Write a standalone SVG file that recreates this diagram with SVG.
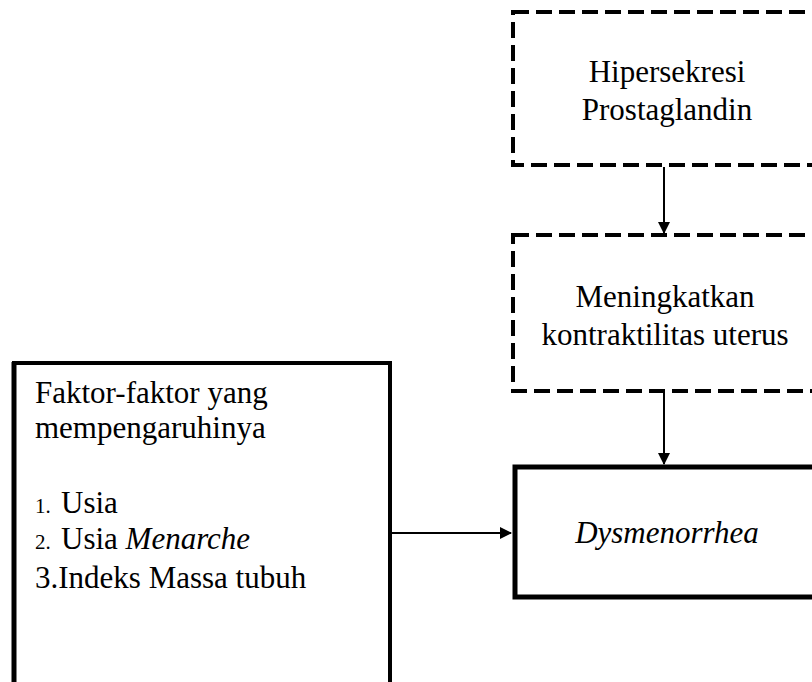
<svg xmlns="http://www.w3.org/2000/svg" width="812" height="682" viewBox="0 0 812 682">
<style>
.dash{fill:#fff;stroke:#000;stroke-width:4;stroke-dasharray:16 7}
.solid{fill:#fff;stroke:#000;stroke-width:5}
.ln{stroke:#000;stroke-width:2;fill:none}
</style>
<defs>
<marker id="ah" markerWidth="12" markerHeight="12" refX="11" refY="6" orient="auto" markerUnits="userSpaceOnUse">
<path d="M0,0 L12,6 L0,12 Z" fill="#000"/>
</marker>
</defs>
<rect width="812" height="682" fill="#fff"/>
<g id="connectors">
<line class="ln" x1="664" y1="167" x2="664" y2="233" marker-end="url(#ah)"/>
<line class="ln" x1="664" y1="393" x2="664" y2="464" marker-end="url(#ah)"/>
<line class="ln" x1="391" y1="533" x2="511" y2="533" marker-end="url(#ah)"/>
</g>
<g id="hipersekresi">
<rect class="dash" x="513" y="12" width="320" height="153"/>
<text x="667" y="82" text-anchor="middle" font-family="Liberation Serif" font-size="31">Hipersekresi</text>
<text x="667" y="120" text-anchor="middle" font-family="Liberation Serif" font-size="31">Prostaglandin</text>
</g>
<g id="kontraktilitas">
<rect class="dash" x="513" y="235" width="320" height="156"/>
<text x="665" y="307" text-anchor="middle" font-family="Liberation Serif" font-size="31">Meningkatkan</text>
<text x="665" y="345" text-anchor="middle" font-family="Liberation Serif" font-size="31">kontraktilitas uterus</text>
</g>
<g id="dysmenorrhea">
<rect class="solid" x="515" y="467" width="320" height="130"/>
<text x="667" y="543" text-anchor="middle" font-style="italic" font-family="Liberation Serif" font-size="31">Dysmenorrhea</text>
</g>
<g id="faktor">
<path d="M390,700 V363 H14 V700" fill="#fff" stroke="#000" stroke-width="4"/>
<line x1="14" y1="362" x2="14" y2="700" stroke="#000" stroke-width="5"/>
<text x="35" y="403" font-family="Liberation Serif" font-size="31">Faktor-faktor yang</text>
<text x="35" y="438" font-family="Liberation Serif" font-size="31">mempengaruhinya</text>
<text x="35" y="513" font-family="Liberation Serif" font-size="31"><tspan font-size="21">1.</tspan><tspan x="61">Usia</tspan></text>
<text x="35" y="549" font-family="Liberation Serif" font-size="31"><tspan font-size="21">2.</tspan><tspan x="61">Usia </tspan><tspan font-style="italic">Menarche</tspan></text>
<text x="35" y="588" font-family="Liberation Serif" font-size="31">3.Indeks Massa tubuh</text>
</g>
</svg>
